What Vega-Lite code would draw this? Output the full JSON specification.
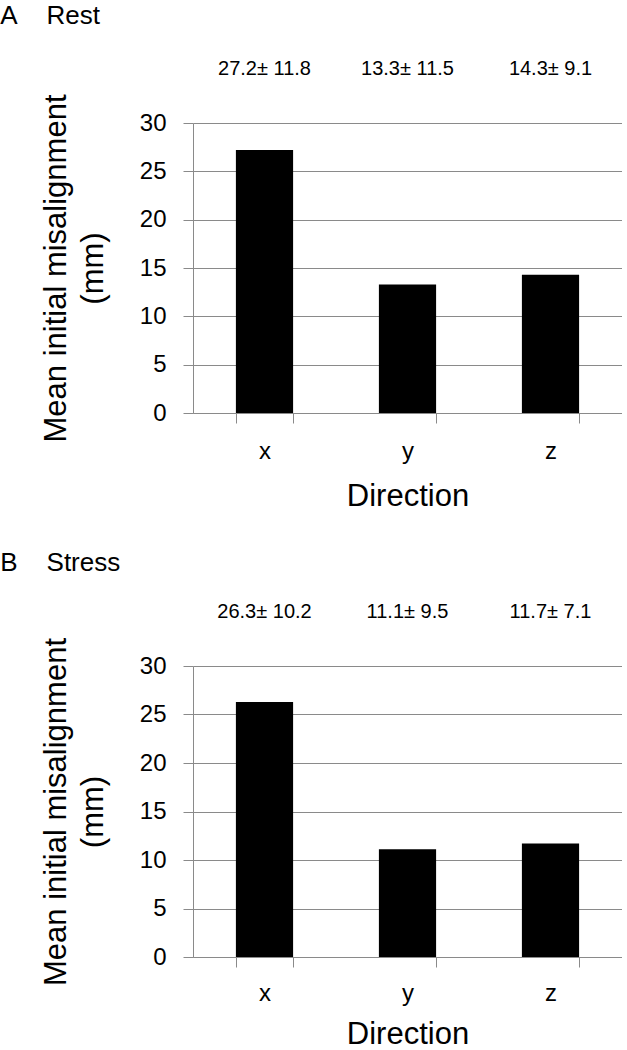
{
  "$schema": "https://vega.github.io/schema/vega-lite/v6.json",
  "padding": {"left": 0, "top": 2, "right": 0, "bottom": 0},
  "background": "white",
  "spacing": 38,
  "config": {
    "font": "Liberation Sans",
    "view": {"stroke": null},
    "axis": {
      "domainColor": "#8a8a8a",
      "tickColor": "#8a8a8a",
      "gridColor": "#8a8a8a",
      "tickSize": 10,
      "labelColor": "black",
      "titleColor": "black",
      "labelFont": "Liberation Sans",
      "titleFont": "Liberation Sans",
      "titleFontWeight": "normal",
      "labelFontSize": 24,
      "titleFontSize": 31
    },
    "axisY": {
      "grid": true,
      "values": [0, 5, 10, 15, 20, 25, 30],
      "labelPadding": 17,
      "titlePadding": 30,
      "titleLineHeight": 37
    },
    "axisX": {
      "grid": false,
      "labelAngle": 0,
      "tickBand": "extent",
      "labelPadding": 16,
      "titlePadding": 18
    },
    "title": {
      "anchor": "start",
      "frame": "bounds",
      "fontSize": 26,
      "fontWeight": "normal",
      "font": "Liberation Sans",
      "color": "black",
      "dx": -40
    }
  },
  "data": {
    "values": [
      {"panel": "Rest", "direction": "x", "mean": 27.2, "label": "27.2± 11.8"},
      {"panel": "Rest", "direction": "y", "mean": 13.3, "label": "13.3± 11.5"},
      {"panel": "Rest", "direction": "z", "mean": 14.3, "label": "14.3± 9.1"},
      {"panel": "Stress", "direction": "x", "mean": 26.3, "label": "26.3± 10.2"},
      {"panel": "Stress", "direction": "y", "mean": 11.1, "label": "11.1± 9.5"},
      {"panel": "Stress", "direction": "z", "mean": 11.7, "label": "11.7± 7.1"}
    ]
  },
  "vconcat": [
    {
      "title": {"text": "A\u00a0\u00a0\u00a0\u00a0Rest", "offset": 30},
      "transform": [{"filter": "datum.panel === 'Rest'"}],
      "width": 429,
      "height": 290,
      "layer": [
        {
          "mark": {"type": "bar", "color": "black"},
          "encoding": {
            "x": {"field": "direction", "type": "nominal", "title": "Direction",
                  "scale": {"paddingInner": 0.6, "paddingOuter": 0.3}},
            "y": {"field": "mean", "type": "quantitative",
                  "title": ["Mean initial misalignment", "(mm)"],
                  "scale": {"domain": [0, 30], "nice": false}}
          }
        },
        {
          "mark": {"type": "text", "font": "Liberation Sans", "fontSize": 20, "baseline": "middle", "color": "black"},
          "encoding": {
            "x": {"field": "direction", "type": "nominal"},
            "y": {"datum": 35.6, "type": "quantitative"},
            "text": {"field": "label"}
          }
        }
      ]
    },
    {
      "title": {"text": "B\u00a0\u00a0\u00a0\u00a0Stress", "offset": 26},
      "transform": [{"filter": "datum.panel === 'Stress'"}],
      "width": 429,
      "height": 291,
      "layer": [
        {
          "mark": {"type": "bar", "color": "black"},
          "encoding": {
            "x": {"field": "direction", "type": "nominal", "title": "Direction",
                  "scale": {"paddingInner": 0.6, "paddingOuter": 0.3},
                  "axis": {"titlePadding": 14, "labelPadding": 14}},
            "y": {"field": "mean", "type": "quantitative",
                  "title": ["Mean initial misalignment", "(mm)"],
                  "scale": {"domain": [0, 30], "nice": false}}
          }
        },
        {
          "mark": {"type": "text", "font": "Liberation Sans", "fontSize": 20, "baseline": "middle", "color": "black"},
          "encoding": {
            "x": {"field": "direction", "type": "nominal"},
            "y": {"datum": 35.6, "type": "quantitative"},
            "text": {"field": "label"}
          }
        }
      ]
    }
  ]
}
